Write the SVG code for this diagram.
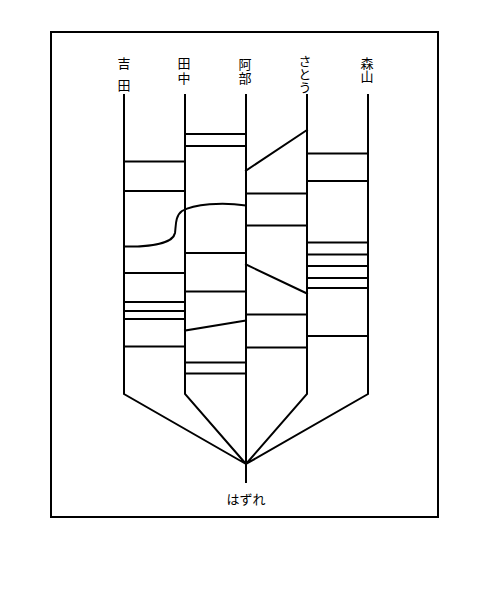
<svg xmlns="http://www.w3.org/2000/svg" width="490" height="603" viewBox="0 0 490 603">
<style>
.ln{stroke:#000;stroke-width:2;fill:none;stroke-linecap:square}
.lb{font-family:"Noto Sans CJK JP","Noto Sans",sans-serif;font-size:13px;fill:#000}
.v{writing-mode:vertical-rl;text-orientation:upright}
.h{text-anchor:middle}
</style>
<rect x="0" y="0" width="490" height="603" fill="#fff"/>
<rect x="51" y="32" width="387" height="485" fill="none" stroke="#000" stroke-width="2"/>
<g id="yoshida"><text class="lb v" x="124" y="57" letter-spacing="9">吉田</text></g>
<g id="tanaka"><text class="lb v" x="184" y="57" letter-spacing="2">田中</text></g>
<g id="abe"><text class="lb v" x="245" y="58" font-size="12" letter-spacing="1">阿部</text></g>
<g id="sato"><text class="lb v" x="305" y="55" font-size="12">さとう</text></g>
<g id="moriyama"><text class="lb v" x="367" y="57" font-size="12">森山</text></g>
<g id="hazure"><text class="lb h" x="246" y="504">はずれ</text></g>
<g id="connectors" class="ln">
<path d="M124,95V394L246,464M185,95V394L246,464M246,95V482M307,95V394L246,464M368,95V394L246,464"/>
<path d="M124,161.5H185M124,191H185M124,273H185M124,302H185M124,311H185M124,319H185M124,346.5H185"/>
<path d="M185,134H246M185,146H246M185,253H246M185,291.5H246M185,330.5L246,320.5M185,362.5H246M185,373.5H246"/>
<path d="M246,170.5L307,130M246,193.5H307M246,225.5H307M246,264.5L307,293.5M246,314.5H307M246,347.5H307"/>
<path d="M307,153.5H368M307,181H368M307,242.5H368M307,254.5H368M307,266H368M307,278H368M307,288H368M307,336H368"/>
<path d="M246,205.5C222,202 194,204 182,211C175,216 176,226 175,233C173,243 152,247 124,246.5"/>
</g>
</svg>
